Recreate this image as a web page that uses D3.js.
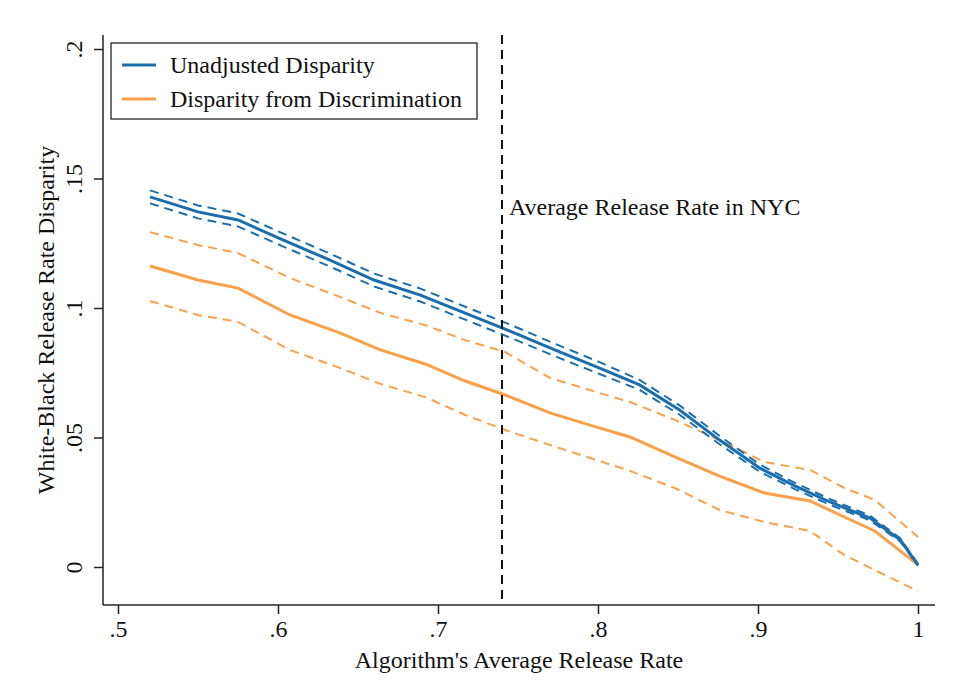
<!DOCTYPE html>
<html>
<head>
<script src="https://d3js.org/d3.v7.min.js"></script>
<style>body{margin:0;background:#fff;} text{font-family:"Liberation Serif","Times New Roman",serif;fill:#111;}</style>
</head>
<body>
<svg id="chart" width="956" height="700"></svg>
<script>
// Unadjusted disparity: estimate and confidence band
var unadjX = [0.52, 0.55, 0.575, 0.603, 0.6325, 0.66, 0.689, 0.717, 0.745, 0.773, 0.801, 0.826, 0.851, 0.876, 0.901, 0.923, 0.945, 0.97, 0.989, 1.0];
var unadjY = [0.1429, 0.1371, 0.134, 0.1263, 0.1185, 0.1108, 0.105, 0.098, 0.0911, 0.0838, 0.0768, 0.0703, 0.0606, 0.049, 0.0382, 0.0313, 0.0251, 0.0189, 0.0104, 0.0008];
var unadjHi = [0.1454, 0.1396, 0.1365, 0.1288, 0.121, 0.1133, 0.1075, 0.1005, 0.0936, 0.0862, 0.0791, 0.0722, 0.0624, 0.0506, 0.0396, 0.0325, 0.0262, 0.0198, 0.011, 0.0011];
var unadjLo = [0.1404, 0.1346, 0.1315, 0.1238, 0.116, 0.1083, 0.1025, 0.0955, 0.0886, 0.0814, 0.0745, 0.0684, 0.0588, 0.0474, 0.0368, 0.0301, 0.024, 0.018, 0.0098, 0.0005];
// Disparity from discrimination: estimate and confidence band
var discX = [0.52, 0.55, 0.575, 0.6075, 0.639, 0.664, 0.692, 0.717, 0.742, 0.77, 0.795, 0.82, 0.848, 0.876, 0.904, 0.9325, 0.954, 0.973, 1.0];
var discY = [0.1162, 0.1108, 0.1077, 0.0973, 0.0903, 0.0838, 0.0784, 0.0718, 0.0664, 0.0595, 0.0548, 0.0502, 0.0425, 0.0351, 0.0286, 0.0255, 0.0193, 0.0139, 0.0008];
var discHi = [0.1293, 0.1243, 0.1212, 0.1116, 0.1042, 0.0981, 0.0934, 0.0876, 0.083, 0.073, 0.0683, 0.0637, 0.0568, 0.049, 0.0405, 0.0375, 0.0305, 0.0259, 0.0116];
var discLo = [0.1027, 0.0973, 0.0946, 0.0838, 0.0768, 0.0707, 0.0656, 0.0587, 0.0529, 0.0471, 0.0421, 0.0371, 0.0305, 0.022, 0.0174, 0.0139, 0.0046, -0.0012, -0.0093];
var xTicks = [0.5, 0.6, 0.7, 0.8, 0.9, 1];
var yTicks = [0, 0.05, 0.1, 0.15, 0.2];
var nycRate = 0.74;

var blue = "#1a6ead", orange = "#fba048";
var fs = "24px";
var svg = d3.select("#chart");
var x = d3.scaleLinear().domain([0.5, 1]).range([118, 918]);
var y = d3.scaleLinear().domain([0, 0.2]).range([567, 49]);
var fmt = function (d) { return d === 0 ? "0" : d === 1 ? "1" : String(d).replace(/^0/, ""); };

// axes
var xa = svg.append("g").attr("transform", "translate(0,605)")
    .call(d3.axisBottom(x).tickValues(xTicks).tickFormat(fmt).tickSize(9).tickSizeOuter(0));
xa.select(".domain").attr("d", "M103,0H935");
xa.selectAll("text").style("font-size", fs).attr("dy", "0.85em");
var ya = svg.append("g").attr("transform", "translate(103,0)")
    .call(d3.axisLeft(y).tickValues(yTicks).tickFormat(fmt).tickSize(9).tickSizeOuter(0));
ya.select(".domain").attr("d", "M0,35V605");
ya.selectAll(".tick text").attr("x", 0).attr("dy", 0).attr("text-anchor", "middle")
    .attr("transform", "translate(-21,0) rotate(-90)").style("font-size", fs);
svg.selectAll(".domain, .tick line").attr("stroke", "#222").attr("stroke-width", 1.5);

function pts(xs, ys) { return xs.map(function (d, i) { return [x(d), y(ys[i])]; }); }
var line = d3.line();
function draw(xs, ys, col, dash, w) {
  svg.append("path").attr("d", line(pts(xs, ys))).attr("fill", "none")
    .attr("stroke", col).attr("stroke-width", w).attr("stroke-dasharray", dash);
}
draw(discX, discHi, orange, "9,6", 2);
draw(discX, discLo, orange, "9,6", 2);
draw(discX, discY, orange, null, 3);
draw(unadjX, unadjHi, blue, "9,6", 2);
draw(unadjX, unadjLo, blue, "9,6", 2);
draw(unadjX, unadjY, blue, null, 3);

// NYC line
svg.append("line").attr("x1", x(nycRate)).attr("x2", x(nycRate)).attr("y1", 35).attr("y2", 605)
  .attr("stroke", "#111").attr("stroke-width", 2).attr("stroke-dasharray", "9,6");
svg.append("text").attr("x", x(nycRate) + 7).attr("y", 215).style("font-size", fs).text("Average Release Rate in NYC");

// legend
svg.append("rect").attr("x", 111).attr("y", 43).attr("width", 366).attr("height", 76)
  .attr("fill", "#fff").attr("stroke", "#111").attr("stroke-width", 1.2);
[["Unadjusted Disparity", blue], ["Disparity from Discrimination", orange]].forEach(function (d, i) {
  var yy = 65 + i * 34;
  svg.append("line").attr("x1", 122).attr("x2", 156).attr("y1", yy).attr("y2", yy).attr("stroke", d[1]).attr("stroke-width", 3);
  svg.append("text").attr("x", 170).attr("y", yy + 8).style("font-size", fs).text(d[0]);
});

// axis titles
svg.append("text").attr("x", 519).attr("y", 668).attr("text-anchor", "middle").style("font-size", fs).text("Algorithm's Average Release Rate");
svg.append("text").attr("transform", "translate(54,320) rotate(-90)").attr("text-anchor", "middle").style("font-size", fs).text("White-Black Release Rate Disparity");
</script>
</body>
</html>
